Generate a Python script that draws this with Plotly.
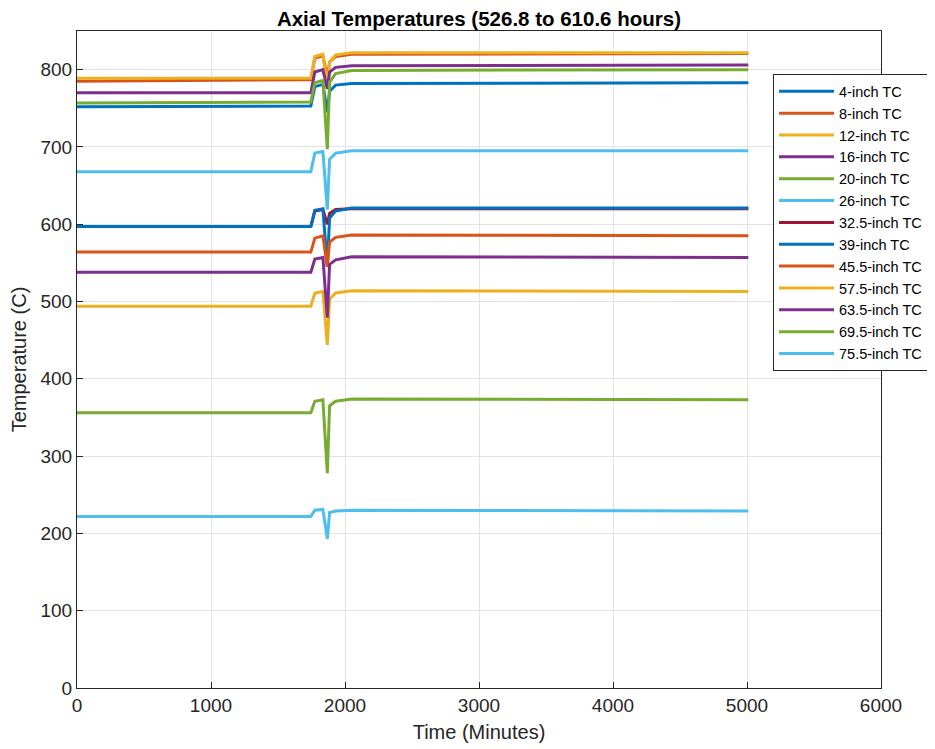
import plotly.graph_objects as go

# Breakpoint times (minutes)
time_pts = [0, 1745, 1775, 1835, 1868, 1885, 1930, 2050, 5010]

labels = ["4-inch TC", "8-inch TC", "12-inch TC", "16-inch TC", "20-inch TC",
          "26-inch TC", "32.5-inch TC", "39-inch TC", "45.5-inch TC",
          "57.5-inch TC", "63.5-inch TC", "69.5-inch TC", "75.5-inch TC"]

tc_4 = [752, 753, 778, 781, 745, 772, 780, 782, 783]
tc_8 = [785, 787, 815, 818, 790, 810, 817, 820, 821]
tc_12 = [789, 789, 817, 820, 778, 810, 819, 822, 822]
tc_16 = [770, 770, 797, 800, 775, 797, 803, 805, 806]
tc_20 = [757, 758, 783, 786, 697, 784, 795, 799, 800]
tc_26 = [668, 668, 692, 694, 619, 684, 692, 695, 695]
tc_32_5 = [597, 597, 617, 619, 600, 614, 619, 620, 620]
tc_39 = [597, 597, 618, 620, 545, 608, 617, 621, 621]
tc_45_5 = [564, 564, 582, 585, 545, 577, 583, 586, 585]
tc_57_5 = [494, 494, 511, 513, 444, 503, 511, 514, 513]
tc_63_5 = [538, 538, 555, 557, 479, 548, 554, 558, 557]
tc_69_5 = [356, 356, 371, 373, 278, 365, 371, 374, 373]
tc_75_5 = [222, 222, 230, 231, 193, 227, 229, 230, 229]

series = [tc_4, tc_8, tc_12, tc_16, tc_20, tc_26, tc_32_5, tc_39,
          tc_45_5, tc_57_5, tc_63_5, tc_69_5, tc_75_5]

colors = ["#0072BD", "#D95319", "#EDB120", "#7E2F8E", "#77AC30", "#4DBEEE",
          "#A2142F"]

x_ticks = [0, 1000, 2000, 3000, 4000, 5000, 6000]
y_ticks = [0, 100, 200, 300, 400, 500, 600, 700, 800]

fig = go.Figure()
for i, (lab, vals) in enumerate(zip(labels, series)):
    fig.add_trace(go.Scatter(x=time_pts, y=vals, mode="lines", name=lab,
                             line=dict(color=colors[i % 7], width=3)))

font_family = "Liberation Sans, Arial, sans-serif"
axis_common = dict(showgrid=True, gridcolor="#e3e3e3", gridwidth=1,
                   showline=True, linecolor="#262626", linewidth=1, mirror=True,
                   ticks="inside", ticklen=6, tickcolor="#262626",
                   tickfont=dict(size=19, color="#262626", family=font_family),
                   zeroline=False, automargin=False)

fig.update_layout(
    width=935, height=749,
    margin=dict(l=69, r=62, t=23, b=69),
    paper_bgcolor="white", plot_bgcolor="white",
    title=dict(text="<b>Axial Temperatures (526.8 to 610.6 hours)</b>",
               x=0.5037, xanchor="center", y=1 - 11 / 749, yanchor="middle",
               font=dict(size=20.5, color="black", family=font_family)),
    xaxis=dict(range=[0, 6000], tickvals=x_ticks,
               title=dict(text="Time (Minutes)", standoff=10,
                          font=dict(size=20, color="#262626", family=font_family)),
               **axis_common),
    yaxis=dict(range=[0, 850], tickvals=y_ticks,
               title=dict(text="Temperature (C)", standoff=12,
                          font=dict(size=20, color="#262626", family=font_family)),
               **axis_common),
    legend=dict(x=0.8657, y=0.934, xanchor="left", yanchor="top",
                bgcolor="white", bordercolor="#262626", borderwidth=1,
                font=dict(size=14.5, color="black", family=font_family),
                itemwidth=55, tracegroupgap=0),
    showlegend=True,
)

fig.write_html("out.html")
